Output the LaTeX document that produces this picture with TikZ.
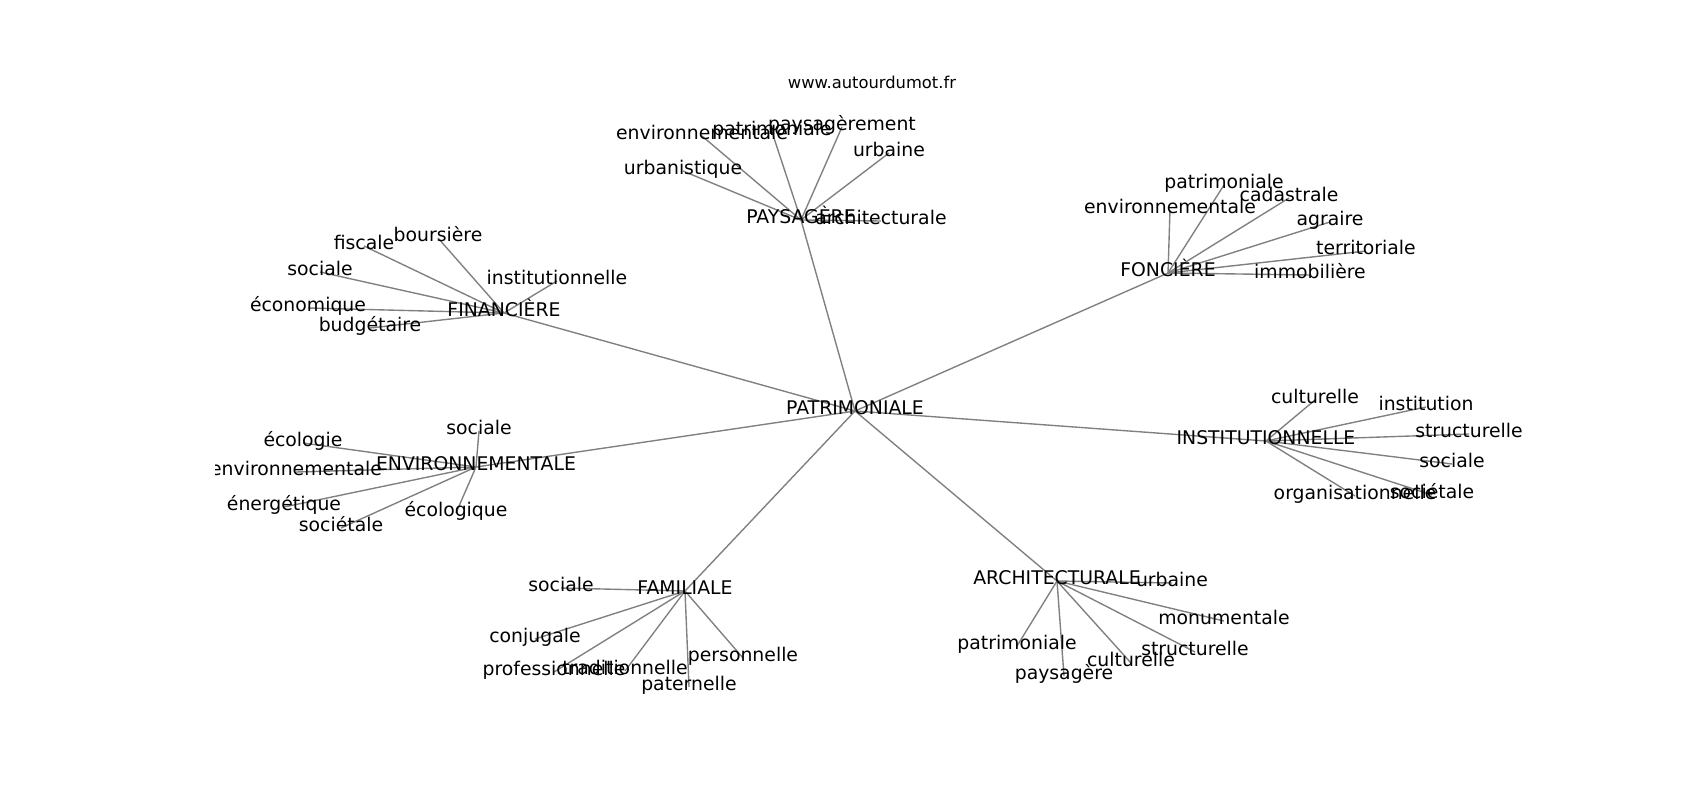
\documentclass[tikz,border=0pt]{standalone}
\usepackage{fontspec}
\setmainfont{DejaVu Sans}
\usetikzlibrary{backgrounds}
\begin{document}
\begin{tikzpicture}[x=0.01in,y=-0.01in,
  word/.style={inner sep=0pt,text height=0.76em,text depth=0.21em,font=\fontsize{13.6}{16}\selectfont},
  link/.style={draw=gray,line width=1pt}]
\useasboundingbox (0,0) rectangle (1700,800);
\node[inner sep=0pt,font=\fontsize{11.8}{14}\selectfont] (site) at (872,82) {www.autourdumot.fr};
\begin{scope}
\clip (215,96) rectangle (1530,712);
% centre and hubs
\node[word] (pat) at (855,411) {PATRIMONIALE};
\node[word] (pay) at (801,220) {PAYSAGÈRE};
\node[word] (fon) at (1168,273) {FONCIÈRE};
\node[word] (fin) at (504,313) {FINANCIÈRE};
\node[word] (env) at (476,467) {ENVIRONNEMENTALE};
\node[word] (ins) at (1266,441) {INSTITUTIONNELLE};
\node[word] (fam) at (685,591) {FAMILIALE};
\node[word] (arc) at (1057,581) {ARCHITECTURALE};
% paysagere
\node[word] (pay1) at (702,136) {environnementale};
\node[word] (pay2) at (772,132) {patrimoniale};
\node[word] (pay3) at (842,127) {paysagèrement};
\node[word] (pay4) at (889,153) {urbaine};
\node[word] (pay5) at (683,171) {urbanistique};
\node[word] (pay6) at (881,221) {architecturale};
% fonciere
\node[word] (fon1) at (1224,185) {patrimoniale};
\node[word] (fon2) at (1289,198) {cadastrale};
\node[word] (fon3) at (1170,210) {environnementale};
\node[word] (fon4) at (1330,222) {agraire};
\node[word] (fon5) at (1366,251) {territoriale};
\node[word] (fon6) at (1310,275) {immobilière};
% financiere
\node[word] (fin1) at (364,246) {fiscale};
\node[word] (fin2) at (438,238) {boursière};
\node[word] (fin3) at (320,272) {sociale};
\node[word] (fin4) at (557,281) {institutionnelle};
\node[word] (fin5) at (308,308) {économique};
\node[word] (fin6) at (370,328) {budgétaire};
% environnementale
\node[word] (env1) at (479,431) {sociale};
\node[word] (env2) at (303,443) {écologie};
\node[word] (env3) at (296,472) {environnementale};
\node[word] (env4) at (284,507) {énergétique};
\node[word] (env5) at (341,528) {sociétale};
\node[word] (env6) at (456,513) {écologique};
% institutionnelle
\node[word] (ins1) at (1315,400) {culturelle};
\node[word] (ins2) at (1426,407) {institution};
\node[word] (ins3) at (1469,434) {structurelle};
\node[word] (ins4) at (1452,464) {sociale};
\node[word] (ins5) at (1355,496) {organisationnelle};
\node[word] (ins6) at (1432,495) {sociétale};
% familiale
\node[word] (fam1) at (561,588) {sociale};
\node[word] (fam2) at (535,639) {conjugale};
\node[word] (fam3) at (554,672) {professionnelle};
\node[word] (fam4) at (625,671) {traditionnelle};
\node[word] (fam5) at (689,687) {paternelle};
\node[word] (fam6) at (743,658) {personnelle};
% architecturale
\node[word] (arc1) at (1172,583) {urbaine};
\node[word] (arc2) at (1224,621) {monumentale};
\node[word] (arc3) at (1195,652) {structurelle};
\node[word] (arc4) at (1131,663) {culturelle};
\node[word] (arc5) at (1064,676) {paysagère};
\node[word] (arc6) at (1017,646) {patrimoniale};
\end{scope}
\begin{scope}[on background layer]
\foreach \h in {pay,fon,fin,env,ins,fam,arc}{
  \draw[link] (pat.center) -- (\h.center);
  \foreach \i in {1,...,6}
    \draw[link] (\h.center) -- (\h\i.center);
}
\end{scope}
\end{tikzpicture}
\end{document}
